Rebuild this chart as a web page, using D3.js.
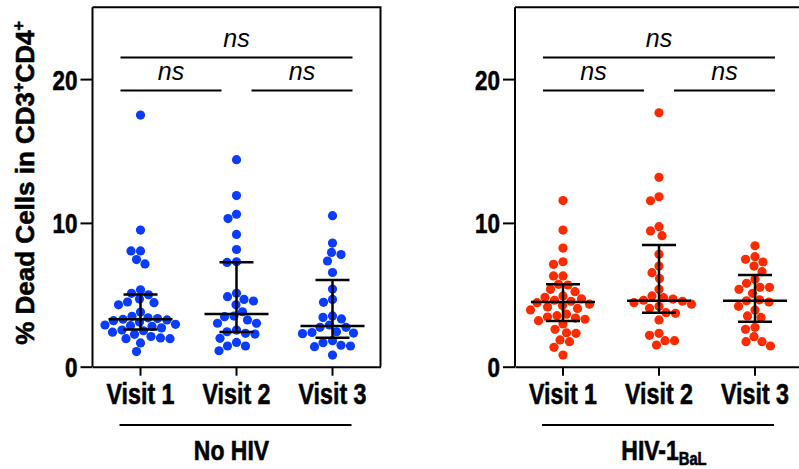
<!DOCTYPE html>
<html>
<head>
<meta charset="utf-8">
<script src="https://cdn.jsdelivr.net/npm/d3@7"></script>
<style>
  html, body { margin: 0; padding: 0; background: #fff; }
  svg { display: block; }
  .cond { font-family: "Liberation Sans", Arial, sans-serif; font-weight: bold; stroke: #000; stroke-width: 0.6px; }
  .ns { font-family: "Liberation Sans", Arial, sans-serif; font-style: italic; }
</style>
</head>
<body>
<div id="chart"></div>
<script>
// categories and tick labels
var visits = ["Visit 1", "Visit 2", "Visit 3"];
var yTicks = [0, 10, 20];

// No HIV, % dead cells per donor
var noHivVisit1 = [17.5, 9.5, 8.05, 8.05, 7.45, 7.15, 5.35, 5.1, 5.0, 4.7, 4.5, 4.45, 4.3, 3.8, 3.5, 3.4, 3.35, 3.3, 3.25, 3.2, 3.1, 2.95, 2.9, 2.85, 2.8, 2.7, 2.55, 2.5, 2.4, 2.25, 2.1, 2.0, 1.95, 1.95, 1.65, 1.05];
var noHivVisit2 = [14.4, 11.9, 10.6, 10.3, 9.2, 8.15, 7.3, 7.25, 5.1, 4.87, 4.68, 4.57, 4.3, 3.82, 3.52, 3.48, 3.25, 3.02, 3.02, 2.55, 2.43, 2.32, 2.27, 1.97, 1.69, 1.44, 1.44, 1.11];
var noHivVisit3 = [10.5, 8.6, 7.95, 7.8, 7.35, 6.55, 5.4, 4.68, 4.48, 3.53, 3.43, 3.32, 2.9, 2.74, 2.74, 2.43, 2.38, 2.34, 2.3, 1.81, 1.67, 1.49, 1.44, 1.39, 0.81];
var noHivMedian = [3.3, 3.66, 2.83];
var noHivQ1 = [2.58, 2.41, 2.02];
var noHivQ3 = [5.02, 7.26, 6.03];

// HIV-1 BaL
var balVisit1 = [11.55, 9.5, 8.25, 7.3, 7.12, 6.31, 6.31, 5.73, 5.68, 5.38, 5.22, 4.92, 4.83, 4.72, 4.62, 4.55, 4.45, 4.35, 4.25, 4.15, 4.05, 3.95, 3.65, 3.55, 3.45, 3.38, 3.3, 3.2, 2.97, 2.6, 2.36, 2.32, 1.86, 1.74, 1.35, 0.81];
var balVisit2 = [17.66, 13.17, 11.82, 11.54, 9.74, 9.44, 9.11, 7.82, 7.0, 6.54, 6.13, 5.38, 4.92, 4.8, 4.7, 4.62, 4.55, 4.45, 4.35, 4.2, 4.06, 3.76, 3.71, 3.25, 2.32, 2.18, 1.81, 1.81, 1.51];
var balVisit3 = [8.41, 7.65, 7.47, 7.28, 7.0, 6.61, 6.08, 5.8, 5.52, 5.52, 5.38, 5.1, 4.65, 4.58, 4.5, 4.2, 3.94, 3.53, 3.43, 2.74, 2.6, 2.09, 1.74, 1.74, 1.44];
var balMedian = [4.5, 4.59, 4.59];
var balQ1 = [3.18, 3.76, 3.13];
var balQ3 = [5.73, 8.46, 6.38];

// pairwise tests: [from, to, label, level]
var comparisons = [
    ["Visit 1", "Visit 3", "ns", 1],
    ["Visit 1", "Visit 2", "ns", 0],
    ["Visit 2", "Visit 3", "ns", 0]
];

var width = 799, height = 469;
var svg = d3.select("#chart").append("svg")
    .attr("width", width)
    .attr("height", height);

var y = d3.scaleLinear().domain([0, 25]).range([366.7, 7.2]);

// squeeze bold text horizontally to mimic a condensed face
function condense(sel, s) {
    sel.each(function () {
        var t = d3.select(this);
        var x0 = +t.attr("x") || 0;
        t.attr("x", x0 / s).attr("transform", "scale(" + s + ",1)");
    });
}

// y axis title
var yTitle = svg.append("text")
    .attr("class", "cond")
    .attr("font-size", "26px")
    .attr("text-anchor", "middle")
    .attr("transform", "translate(34,183) rotate(-90)");
yTitle.append("tspan").text("% Dead Cells in CD3");
yTitle.append("tspan").attr("font-size", "16px").attr("dy", -10).text("+");
yTitle.append("tspan").attr("dy", 10).text("CD4");
yTitle.append("tspan").attr("font-size", "16px").attr("dy", -10).text("+");

function swarm(values, r) {
    var pts = values.map(function (v) { return { v: v, y: y(v), dx: 0 }; })
        .sort(function (a, b) { return b.v - a.v; });
    var placed = [];
    pts.forEach(function (p) {
        for (var k = 0; k < 400; k++) {
            var off = (k % 2 === 0 ? 1 : -1) * Math.ceil(k / 2) * 0.5;
            var ok = placed.every(function (q) {
                var ddx = q.dx - off, ddy = q.y - p.y;
                return ddx * ddx + ddy * ddy >= r * r;
            });
            if (ok) { p.dx = off; break; }
        }
        placed.push(p);
    });
    return pts;
}

function drawPanel(opts) {
    var g = svg.append("g");
    var x = d3.scaleBand().domain(visits).range(opts.range);
    var x0 = opts.range[0], x1 = opts.range[1];

    // frame (top and right)
    g.append("path")
        .attr("d", "M" + x0 + "," + y(25) + "H" + x1 + "V" + y(0))
        .attr("fill", "none").attr("stroke", "#000").attr("stroke-width", 2);

    // y axis
    var ya = g.append("g")
        .attr("transform", "translate(" + x0 + ",0)")
        .call(d3.axisLeft(y).tickValues(yTicks).tickSize(12).tickPadding(3).tickSizeOuter(0));
    ya.select(".domain").attr("stroke-width", 2).attr("d", "M0," + y(0) + "V" + y(25));
    ya.selectAll(".tick line").attr("stroke-width", 2);
    ya.selectAll(".tick text").attr("class", "cond").attr("font-size", "28px").attr("dy", "0.36em").attr("fill", "#000")
        .call(condense, 0.8);

    // x axis
    var xa = g.append("g")
        .attr("transform", "translate(0," + y(0) + ")")
        .call(d3.axisBottom(x).tickSize(9).tickPadding(5).tickSizeOuter(0));
    xa.select(".domain").attr("stroke-width", 2);
    xa.selectAll(".tick line").attr("stroke-width", 2);
    xa.selectAll(".tick text").attr("class", "cond").attr("font-size", "29px").attr("dy", "0.8em").attr("fill", "#000")
        .call(condense, 0.8);

    // points
    opts.series.forEach(function (vals, i) {
        var cx = x(visits[i]) + x.bandwidth() / 2;
        g.append("g").selectAll("circle")
            .data(swarm(vals, 9.4))
            .join("circle")
            .attr("cx", function (d) { return cx + d.dx; })
            .attr("cy", function (d) { return d.y; })
            .attr("r", 4.6)
            .attr("fill", opts.color);
    });

    // median with interquartile range
    visits.forEach(function (v, i) {
        var cx = x(v) + x.bandwidth() / 2;
        var eg = g.append("g").attr("stroke", "#000").attr("stroke-width", 2.5);
        eg.append("line").attr("x1", cx).attr("x2", cx).attr("y1", y(opts.q1[i])).attr("y2", y(opts.q3[i]));
        eg.append("line").attr("x1", cx - 17).attr("x2", cx + 17).attr("y1", y(opts.q1[i])).attr("y2", y(opts.q1[i]));
        eg.append("line").attr("x1", cx - 17).attr("x2", cx + 17).attr("y1", y(opts.q3[i])).attr("y2", y(opts.q3[i]));
        eg.append("line").attr("x1", cx - 32).attr("x2", cx + 32).attr("y1", y(opts.median[i])).attr("y2", y(opts.median[i]));
    });

    // significance bars
    comparisons.forEach(function (c) {
        var a = x(c[0]) + x.bandwidth() / 2, b = x(c[1]) + x.bandwidth() / 2;
        var wide = c[3] === 1;
        var xa1 = a - 20 + (!wide && c[0] === "Visit 2" ? 35 : 0);
        var xb1 = b + 20 - (!wide && c[1] === "Visit 2" ? 35 : 0);
        var by = wide ? y(21.5) : y(19.2);
        g.append("line").attr("x1", xa1).attr("x2", xb1).attr("y1", by).attr("y2", by)
            .attr("stroke", "#000").attr("stroke-width", 2);
        g.append("text").attr("class", "ns")
            .attr("x", (xa1 + xb1) / 2).attr("y", by - 11)
            .attr("text-anchor", "middle").attr("font-size", "25px")
            .text(c[2]);
    });

    // group line and label
    var gx1 = x(visits[0]) + x.bandwidth() / 2 - 21, gx2 = x(visits[2]) + x.bandwidth() / 2 + 19;
    g.append("line").attr("x1", gx1).attr("x2", gx2).attr("y1", 425).attr("y2", 425)
        .attr("stroke", "#000").attr("stroke-width", 2);
    var lab = g.append("text").attr("class", "cond")
        .attr("x", (gx1 + gx2) / 2 + opts.labelShift).attr("y", 460)
        .attr("text-anchor", "middle").attr("font-size", "28px");
    lab.append("tspan").text(opts.label);
    if (opts.sub) lab.append("tspan").attr("font-size", "18px").attr("dy", 5).text(opts.sub);
    condense(lab, 0.82);
}

drawPanel({
    range: [92.5, 380.5], color: "#0a3cff",
    series: [noHivVisit1, noHivVisit2, noHivVisit3],
    median: noHivMedian, q1: noHivQ1, q3: noHivQ3,
    label: "No HIV", sub: null, labelShift: -4
});
drawPanel({
    range: [515, 803], color: "#ff2a00",
    series: [balVisit1, balVisit2, balVisit3],
    median: balMedian, q1: balQ1, q3: balQ3,
    label: "HIV-1", sub: "BaL", labelShift: 6
});
</script>
</body>
</html>
